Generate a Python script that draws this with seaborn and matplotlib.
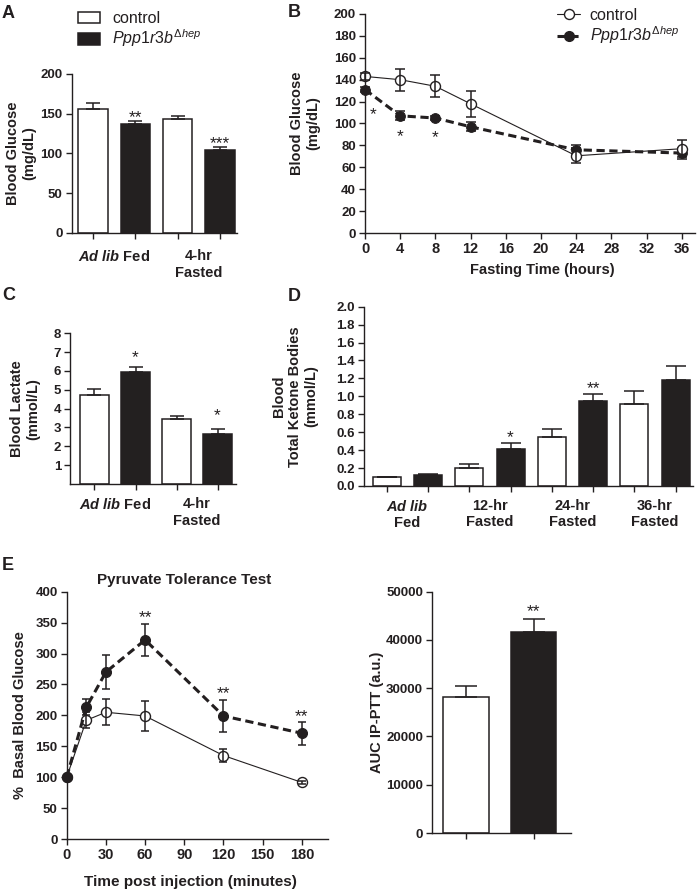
import numpy as np
import pandas as pd
import seaborn as sns
import matplotlib.pyplot as plt
from matplotlib.patches import Patch
from matplotlib.lines import Line2D

# A: blood glucose (mg/dL), fed vs 4-hr fasted
glc_ctrl = [156, 143]
glc_ctrl_sem = [8, 4.5]
glc_ko = [137, 104.6]
glc_ko_sem = [3.3, 3]
glc_stars = ['', '**', '', '***']

# B: fasting time course
fast_hours = [0, 4, 8, 12, 24, 36]
fast_ctrl = [143, 140, 134, 118, 70.5, 77]
fast_ctrl_sem = [3, 10, 10, 12, 7, 7.5]
fast_ko = [131, 107, 105, 97, 76, 73]
fast_ko_sem = [2, 4, 2, 4, 4, 5]

# C: blood lactate (mmol/L)
lac_ctrl = [4.73, 3.43]
lac_ctrl_sem = [0.30, 0.18]
lac_ko = [5.93, 2.67]
lac_ko_sem = [0.30, 0.23]

# D: total ketone bodies (mmol/L)
ket_ctrl = [0.097, 0.197, 0.546, 0.911]
ket_ctrl_sem = [0.0, 0.052, 0.086, 0.152]
ket_ko = [0.119, 0.416, 0.948, 1.178]
ket_ko_sem = [0.019, 0.067, 0.082, 0.157]

# E: pyruvate tolerance test
ptt_min = [0, 15, 30, 60, 120, 180]
ptt_ctrl = [100, 192, 205, 199, 135, 91.5]
ptt_ctrl_sem = [0, 13, 21, 25, 11, 3]
ptt_ko = [100, 213, 270, 322, 199, 171]
ptt_ko_sem = [0, 13, 27, 26, 26, 19]
auc = [28140, 41650]
auc_sem = [2340, 2620]

fed_fast_labels = [r'$\mathbfit{Ad\ lib}$ Fed', '4-hr\nFasted']
ket_labels = [r'$\mathbfit{Ad\ lib}$' + '\nFed', '12-hr\nFasted', '24-hr\nFasted', '36-hr\nFasted']
ko_label = r'$\mathit{Ppp1r3b}^{\Delta \mathit{hep}}$'

BLACK = '#231f20'
W, H = 700, 894

sns.set_style('ticks')
plt.rcParams['font.family'] = ['Liberation Sans', 'DejaVu Sans']
plt.rcParams.update({
    'font.weight': 'bold',
    'axes.labelweight': 'bold',
    'axes.linewidth': 1.0,
    'axes.edgecolor': BLACK,
    'xtick.color': BLACK,
    'ytick.color': BLACK,
    'xtick.major.width': 1.0,
    'ytick.major.width': 1.0,
    'xtick.major.size': 4.5,
    'ytick.major.size': 4.5,
    'xtick.labelsize': 9.5,
    'ytick.labelsize': 9.5,
    'xtick.major.pad': 2,
    'ytick.major.pad': 2,
    'text.color': BLACK,
    'axes.labelcolor': BLACK,
    'mathtext.fontset': 'custom',
    'mathtext.rm': 'Liberation Sans:weight=normal',
    'mathtext.it': 'Liberation Sans:style=italic:weight=normal',
    'mathtext.bf': 'Liberation Sans:weight=bold',
    'mathtext.bfit': 'Liberation Sans:style=italic:weight=bold',
})

fig = plt.figure(figsize=(W / 100, H / 100), dpi=100)


def px_axes(left, top, right, bottom):
    return fig.add_axes([left / W, 1 - bottom / H, (right - left) / W, (bottom - top) / H])


def bar_frame(ctrl, ko, ctrl_sem, ko_sem):
    rows = []
    for i in range(len(ctrl)):
        rows.append((f'c{i}', ctrl[i], ctrl_sem[i], 'control'))
        rows.append((f'k{i}', ko[i], ko_sem[i], 'ko'))
    return pd.DataFrame(rows, columns=['bar', 'value', 'sem', 'group'])


def draw_bars(ax, df, width, capsize):
    pal = ['white' if g == 'control' else BLACK for g in df['group']]
    sns.barplot(data=df, x='bar', y='value', hue='bar', palette=pal, width=width,
                edgecolor=BLACK, linewidth=1.1, errorbar=None, legend=False, ax=ax)
    ax.errorbar(np.arange(len(df)), df['value'], yerr=[np.zeros(len(df)), df['sem']],
                fmt='none', ecolor=BLACK, elinewidth=1.1, capsize=capsize, capthick=1.1)


def star(ax, x, y, s, fs=12.5):
    ax.annotate(s, (x, y), xytext=(0, -0.585 * fs), textcoords='offset points',
                ha='center', va='baseline', fontsize=fs, fontweight='normal', color=BLACK,
                annotation_clip=False)


def group_ticks(ax, n, labels, pad):
    ax.set_xticks(np.arange(n))
    ax.set_xticklabels([''] * n)
    ax.set_xticks(np.arange(len(labels)) * 2 + 0.5, minor=True)
    ax.set_xticklabels(labels, minor=True, fontsize=10.5, ha='center', multialignment='center')
    ax.tick_params(axis='x', which='minor', length=0, pad=pad)


def ylab(ax, text, x):
    ax.set_ylabel(text, fontsize=10.5, multialignment='center')
    ax.yaxis.set_label_coords(x, 0.5)


# ---- A ----
axA = px_axes(71.7, 74, 237, 232.7)
dfA = bar_frame(glc_ctrl, glc_ko, glc_ctrl_sem, glc_ko_sem)
draw_bars(axA, dfA, 0.69, 4.7)
axA.set_ylim(0, 200)
axA.set_yticks(np.arange(0, 201, 50))
axA.set_xlim(-0.5, 3.4)
group_ticks(axA, 4, fed_fast_labels, 12)
axA.set_xlabel('')
ylab(axA, 'Blood Glucose\n(mg/dL)', -0.216)
for i, s in enumerate(glc_stars):
    if s:
        star(axA, i, [151.7, 119.7][i // 2], s)
sns.despine(ax=axA)

fig.legend([Patch(facecolor='white', edgecolor=BLACK, lw=1.1), Patch(facecolor=BLACK, edgecolor=BLACK, lw=1.1)],
           ['control', ko_label], loc='upper left', bbox_to_anchor=(78 / W, 1 - 11 / H),
           frameon=False, prop={'size': 11.5, 'weight': 'normal'}, handlelength=1.4,
           handleheight=0.75, handletextpad=0.75, borderpad=0, borderaxespad=0, labelspacing=0.1)

# ---- B ----
axB = px_axes(365, 14, 695, 233)
sns.lineplot(x=fast_hours, y=fast_ko, color=BLACK, lw=2.2, linestyle=(0, (2.7, 1.5)),
             marker='o', ms=7, mfc=BLACK, mec=BLACK, clip_on=False, ax=axB)
axB.errorbar(fast_hours, fast_ko, yerr=fast_ko_sem, fmt='none', ecolor=BLACK,
             elinewidth=1.1, capsize=3.4, capthick=1.1, clip_on=False)
sns.lineplot(x=fast_hours, y=fast_ctrl, color=BLACK, lw=0.8, marker='o', ms=7.2,
             mfc='white', mec=BLACK, mew=1.0, clip_on=False, ax=axB)
axB.errorbar(fast_hours, fast_ctrl, yerr=fast_ctrl_sem, fmt='none', ecolor=BLACK,
             elinewidth=1.1, capsize=3.4, capthick=1.1, clip_on=False)
axB.set_xlim(0, 37.5)
axB.set_ylim(0, 200)
axB.set_xticks(np.arange(0, 37, 4))
axB.set_yticks(np.arange(0, 201, 20))
axB.tick_params(axis='x', labelsize=10.5)
axB.set_xlabel('Fasting Time (hours)', fontsize=10.5)
axB.xaxis.set_label_coords(0.536, -0.137)
ylab(axB, 'Blood Glucose\n(mg/dL)', -0.136)
star(axB, 0.9, 113, '*')
star(axB, 4, 93.6, '*')
star(axB, 8, 92.7, '*')
sns.despine(ax=axB)

fig.legend([Line2D([], [], color=BLACK, lw=0.8, marker='o', ms=7.2, mfc='white', mec=BLACK),
            Line2D([], [], color=BLACK, lw=2.2, ls=(0, (2.7, 1.5)), marker='o', ms=7, mfc=BLACK, mec=BLACK)],
           ['control', ko_label], loc='upper left', bbox_to_anchor=(557 / W, 1 - 8 / H),
           frameon=False, prop={'size': 11.5, 'weight': 'normal'}, handlelength=1.45,
           handletextpad=0.6, borderpad=0, borderaxespad=0, labelspacing=0.1)

# ---- C ----
axC = px_axes(70.3, 333.3, 236, 484)
dfC = bar_frame(lac_ctrl, lac_ko, lac_ctrl_sem, lac_ko_sem)
draw_bars(axC, dfC, 0.7, 5)
axC.set_ylim(0, 8)
axC.set_yticks(np.arange(1, 9))
axC.set_xlim(-0.59, 3.45)
group_ticks(axC, 4, fed_fast_labels, 9.7)
axC.set_xlabel('')
ylab(axC, 'Blood Lactate\n(mmol/L)', -0.183)
star(axC, 1, 7.03, '*')
star(axC, 3, 3.93, '*')
sns.despine(ax=axC)

# ---- D ----
axD = px_axes(364, 306.7, 693, 486)
dfD = bar_frame(ket_ctrl, ket_ko, ket_ctrl_sem, ket_ko_sem)
draw_bars(axD, dfD, 0.68, 7)
axD.set_ylim(0, 2.0)
axD.set_yticks(np.round(np.arange(0, 2.01, 0.2), 1))
axD.set_yticklabels([f'{v:.1f}' for v in np.arange(0, 2.01, 0.2)])
axD.set_xlim(-0.55, 7.42)
group_ticks(axD, 8, ket_labels, 9.5)
axD.set_xlabel('')
ylab(axD, 'Blood\nTotal Ketone Bodies\n(mmol/L)', -0.14)
star(axD, 3, 0.606, '*')
star(axD, 5, 1.145, '**')
sns.despine(ax=axD)

# ---- E left ----
axE = px_axes(66.7, 591.7, 328, 839)
sns.lineplot(x=ptt_min, y=ptt_ctrl, color=BLACK, lw=0.8, marker='o', ms=7.2,
             mfc='white', mec=BLACK, mew=1.0, clip_on=False, ax=axE)
axE.errorbar(ptt_min, ptt_ctrl, yerr=ptt_ctrl_sem, fmt='none', ecolor=BLACK,
             elinewidth=1.1, capsize=3.1, capthick=1.1, clip_on=False)
sns.lineplot(x=ptt_min, y=ptt_ko, color=BLACK, lw=2.2, linestyle=(0, (2.7, 1.5)),
             marker='o', ms=7.2, mfc=BLACK, mec=BLACK, clip_on=False, ax=axE)
axE.errorbar(ptt_min, ptt_ko, yerr=ptt_ko_sem, fmt='none', ecolor=BLACK,
             elinewidth=1.1, capsize=3.1, capthick=1.1, clip_on=False)
axE.set_xlim(0, 200)
axE.set_ylim(0, 400)
axE.set_xticks(np.arange(0, 181, 30))
axE.set_yticks(np.arange(0, 401, 50))
axE.tick_params(axis='x', labelsize=10.5)
axE.set_xlabel('Time post injection (minutes)', fontsize=11)
axE.xaxis.set_label_coords(0.472, -0.146)
ylab(axE, '%  Basal Blood Glucose', -0.152)
axE.text(0.45, 1.047, 'Pyruvate Tolerance Test', transform=axE.transAxes,
         ha='center', va='center', fontsize=11)
star(axE, 60, 366.6, '**')
star(axE, 120, 245, '**')
star(axE, 180, 207, '**')
sns.despine(ax=axE)

# ---- E right ----
axF = px_axes(432, 591.7, 571, 833)
dfF = pd.DataFrame({'bar': ['control', 'ko'], 'value': auc, 'sem': auc_sem, 'group': ['control', 'ko']})
draw_bars(axF, dfF, 0.67, 7.8)
axF.set_ylim(0, 50000)
axF.set_yticks(np.arange(0, 50001, 10000))
axF.set_xlim(-0.5, 1.55)
axF.set_xticks([0, 1])
axF.set_xticklabels(['', ''])
axF.set_xlabel('')
ylab(axF, 'AUC IP-PTT (a.u.)', -0.345)
star(axF, 1, 47034, '**')
sns.despine(ax=axF)

for x, y, s in [(2, 5, 'A'), (288, 4, 'B'), (2, 287, 'C'), (288, 288, 'D'), (2, 557, 'E')]:
    fig.text(x / W, 1 - y / H, s, fontsize=13, fontweight='bold', ha='left', va='top')

fig.savefig('out.png', dpi=100)
